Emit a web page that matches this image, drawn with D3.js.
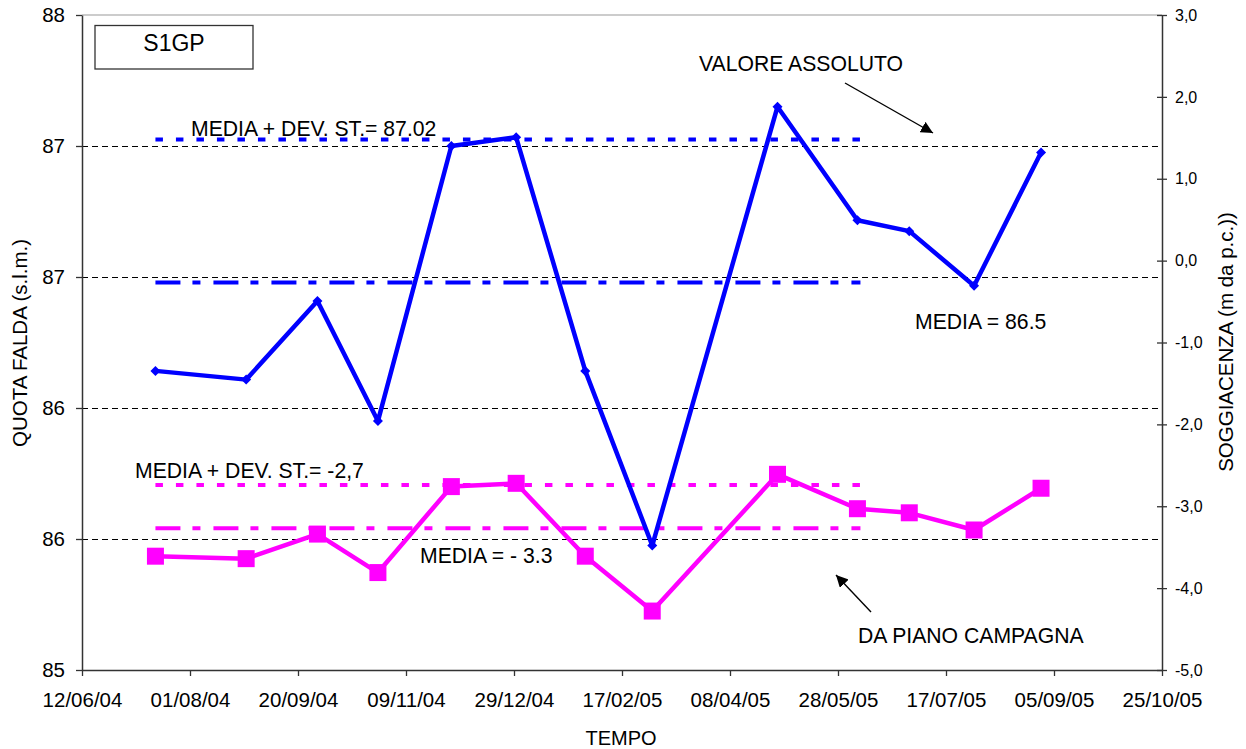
<!DOCTYPE html>
<html>
<head>
<meta charset="utf-8">
<script src="https://cdn.jsdelivr.net/npm/d3@7"></script>
<style>
  body { margin: 0; background: #fff; }
  svg text { font-family: "Liberation Sans", Arial, sans-serif; fill: #000; }
</style>
</head>
<body>
<div id="chart"></div>
<script>
// sampling dates and measured values
const sampleDates = ['2004-07-16', '2004-08-27', '2004-09-29', '2004-10-27', '2004-11-30', '2004-12-30',
  '2005-01-31', '2005-03-03', '2005-04-30', '2005-06-06', '2005-06-30', '2005-07-30', '2005-08-30']
const quotaFalda = [86.37, 86.33, 86.69, 86.14, 87.40, 87.44, 86.37, 85.57, 87.58, 87.06, 87.01, 86.76, 87.37]
const soggiacenza = [-3.61, -3.64, -3.34, -3.81, -2.76, -2.72, -3.61, -4.28, -2.61, -3.03, -3.08, -3.29, -2.78]

// mean and mean + std dev reference lines, drawn over the first..tenth sample
const quotaMedia = [86.775, 87.43]
const soggMedia = [-3.27, -2.74]
const refSpan = ['2004-07-16', '2005-06-06']

const xTicks = ['12/06/04', '01/08/04', '20/09/04', '09/11/04', '29/12/04', '17/02/05',
  '08/04/05', '28/05/05', '17/07/05', '05/09/05', '25/10/05']
const leftTicks = [85, 85.6, 86.2, 86.8, 87.4, 88]
const rightTicks = [-5, -4, -3, -2, -1, 0, 1, 2, 3]

const chartWidth = 1246
const chartHeight = 749
const plot = { left: 82, right: 1162, top: 15, bottom: 670 }

const parseIso = d3.timeParse('%Y-%m-%d')
const parseTick = d3.timeParse('%d/%m/%y')
const fmtTick = d3.timeFormat('%d/%m/%y')

const svg = d3.select('#chart')
  .append('svg')
  .attr('width', chartWidth)
  .attr('height', chartHeight)

const tickDates = xTicks.map(parseTick)

const x = d3.scaleTime()
  .domain([tickDates[0], tickDates[tickDates.length - 1]])
  .range([plot.left, plot.right])

const yLeft = d3.scaleLinear()
  .domain([85, 88])
  .range([plot.bottom, plot.top])

const yRight = d3.scaleLinear()
  .domain([-5, 3])
  .range([plot.bottom, plot.top])

svg.append('defs')
  .append('marker')
  .attr('id', 'arrow')
  .attr('viewBox', '0 0 10 10')
  .attr('refX', 10)
  .attr('refY', 5)
  .attr('markerWidth', 12)
  .attr('markerHeight', 12)
  .attr('markerUnits', 'userSpaceOnUse')
  .attr('orient', 'auto')
  .append('path')
  .attr('d', 'M0,0L10,5L0,10Z')
  .attr('fill', '#000')

// gridlines
svg.append('g')
  .selectAll('line')
  .data(leftTicks.slice(1, -1))
  .enter()
  .append('line')
  .attr('x1', plot.left)
  .attr('x2', plot.right)
  .attr('y1', d => Math.round(yLeft(d)) + 0.5)
  .attr('y2', d => Math.round(yLeft(d)) + 0.5)
  .attr('stroke', '#000')
  .attr('stroke-width', 1)
  .attr('stroke-dasharray', '6,4')

// top border of plot area
svg.append('line')
  .attr('x1', plot.left)
  .attr('x2', plot.right)
  .attr('y1', plot.top)
  .attr('y2', plot.top)
  .attr('stroke', '#999')
  .attr('stroke-width', 1)

const refX = refSpan.map(parseIso)
const drawRef = (value, scale, colour, dash) => {
  svg.append('line')
    .attr('x1', x(refX[0]))
    .attr('x2', x(refX[1]) + 3)
    .attr('y1', scale(value))
    .attr('y2', scale(value))
    .attr('stroke', colour)
    .attr('stroke-width', 4)
    .attr('stroke-dasharray', dash)
}

drawRef(quotaMedia[0], yLeft, '#0000ff', '25,12,8,13')
drawRef(quotaMedia[1], yLeft, '#0000ff', '7.5,13')
drawRef(soggMedia[0], yRight, '#ff00ff', '25,12,8,13')
drawRef(soggMedia[1], yRight, '#ff00ff', '7.5,13')

const dates = sampleDates.map(parseIso)

const lineLeft = d3.line()
  .x((d, i) => x(dates[i]))
  .y(d => yLeft(d))

const lineRight = d3.line()
  .x((d, i) => x(dates[i]))
  .y(d => yRight(d))

svg.append('path')
  .datum(soggiacenza)
  .attr('d', lineRight)
  .attr('fill', 'none')
  .attr('stroke', '#ff00ff')
  .attr('stroke-width', 4.5)
  .attr('stroke-linejoin', 'round')

svg.append('g')
  .selectAll('path')
  .data(soggiacenza)
  .enter()
  .append('path')
  .attr('d', d3.symbol(d3.symbolSquare, 289))
  .attr('transform', (d, i) => `translate(${x(dates[i])},${yRight(d)})`)
  .attr('fill', '#ff00ff')

svg.append('path')
  .datum(quotaFalda)
  .attr('d', lineLeft)
  .attr('fill', 'none')
  .attr('stroke', '#0000ff')
  .attr('stroke-width', 4.5)
  .attr('stroke-linejoin', 'round')

svg.append('g')
  .selectAll('path')
  .data(quotaFalda)
  .enter()
  .append('path')
  .attr('d', 'M0,-5L5,0L0,5L-5,0Z')
  .attr('transform', (d, i) => `translate(${x(dates[i])},${yLeft(d)})`)
  .attr('fill', '#0000ff')

// axes
const axisColour = '#333'

const gx = svg.append('g')
  .attr('transform', `translate(0,${plot.bottom})`)
  .call(d3.axisBottom(x).tickValues(tickDates).tickFormat(fmtTick).tickSizeInner(6).tickSizeOuter(0))
gx.select('.domain').attr('stroke', axisColour).attr('stroke-width', 1.5)
gx.selectAll('.tick line').attr('stroke', axisColour).attr('stroke-width', 1.3)
gx.selectAll('.tick text')
  .attr('y', 37)
  .attr('dy', 0)
  .style('font-size', '20.5px')
  .style('font-family', '"Liberation Sans", Arial, sans-serif')

const gl = svg.append('g')
  .attr('transform', `translate(${plot.left},0)`)
  .call(d3.axisLeft(yLeft).tickValues(leftTicks).tickFormat(d3.format('.0f')).tickSizeInner(6).tickSizeOuter(0).tickPadding(11))
gl.select('.domain').attr('stroke', axisColour).attr('stroke-width', 1.5)
gl.selectAll('.tick line').attr('stroke', axisColour).attr('stroke-width', 1.3)
gl.selectAll('.tick text')
  .style('font-size', '20.5px')
  .style('font-family', '"Liberation Sans", Arial, sans-serif')

const gr = svg.append('g')
  .attr('transform', `translate(${plot.right},0)`)
  .call(d3.axisRight(yRight).tickValues(rightTicks).tickFormat(d => d.toFixed(1).replace('.', ',')).tickSizeInner(5).tickSizeOuter(0).tickPadding(8))
gr.select('.domain').attr('stroke', axisColour).attr('stroke-width', 1.5)
gr.selectAll('.tick line').attr('x1', -5).attr('stroke', axisColour).attr('stroke-width', 1.3)
gr.selectAll('.tick text')
  .style('font-size', '16px')
  .style('font-family', '"Liberation Sans", Arial, sans-serif')

// axis titles
svg.append('text')
  .attr('transform', 'translate(27,343) rotate(-90)')
  .attr('text-anchor', 'middle')
  .style('font-size', '20.5px')
  .text('QUOTA FALDA (s.l.m.)')

svg.append('text')
  .attr('transform', 'translate(1233,342) rotate(-90)')
  .attr('text-anchor', 'middle')
  .style('font-size', '20.5px')
  .text('SOGGIACENZA (m da p.c.))')

svg.append('text')
  .attr('x', 621)
  .attr('y', 745)
  .attr('text-anchor', 'middle')
  .style('font-size', '20px')
  .text('TEMPO')

// well label box
svg.append('rect')
  .attr('x', 95)
  .attr('y', 25.5)
  .attr('width', 158)
  .attr('height', 43.5)
  .attr('fill', '#fff')
  .attr('stroke', '#333')
  .attr('stroke-width', 1.3)

svg.append('text')
  .attr('x', 174)
  .attr('y', 51)
  .attr('text-anchor', 'middle')
  .style('font-size', '23px')
  .text('S1GP')

// annotations
const notes = [
  { text: 'MEDIA + DEV. ST.= 87.02', x: 191, y: 136 },
  { text: 'VALORE ASSOLUTO', x: 699, y: 71 },
  { text: 'MEDIA = 86.5', x: 915, y: 329 },
  { text: 'MEDIA + DEV. ST.= -2,7', x: 135, y: 478 },
  { text: 'MEDIA = - 3.3', x: 420, y: 563 },
  { text: 'DA PIANO CAMPAGNA', x: 858, y: 643 }
]

svg.selectAll('.note')
  .data(notes)
  .enter()
  .append('text')
  .attr('class', 'note')
  .attr('x', d => d.x)
  .attr('y', d => d.y)
  .style('font-size', '21.2px')
  .text(d => d.text)

const arrows = [
  [845, 83, 933, 133],
  [871, 612, 836, 575]
]

svg.selectAll('.arrow')
  .data(arrows)
  .enter()
  .append('line')
  .attr('class', 'arrow')
  .attr('x1', d => d[0])
  .attr('y1', d => d[1])
  .attr('x2', d => d[2])
  .attr('y2', d => d[3])
  .attr('stroke', '#000')
  .attr('stroke-width', 1.4)
  .attr('marker-end', 'url(#arrow)')
</script>
</body>
</html>
